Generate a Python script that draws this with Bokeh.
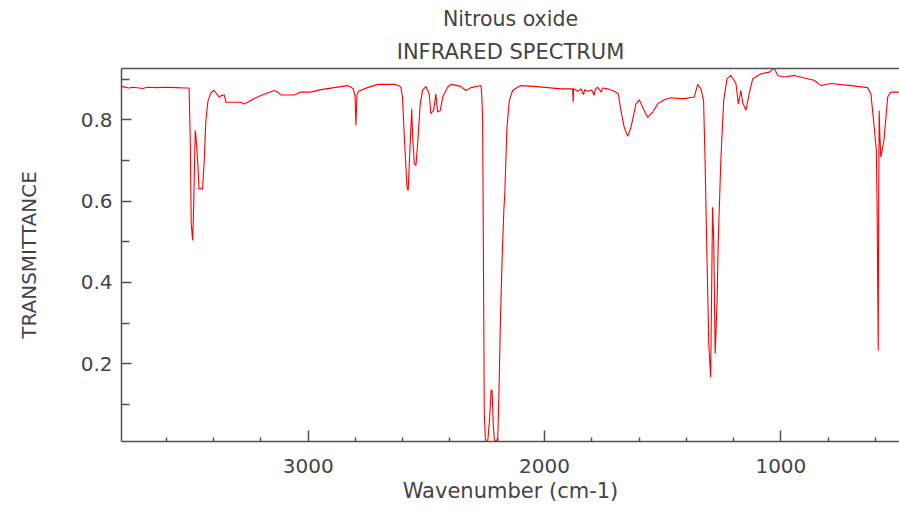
from bokeh.plotting import figure
from bokeh.models import LinearAxis, FixedTicker, Title, Range1d
from bokeh.embed import file_html
from bokeh.resources import INLINE

# Wavenumber (cm-1) and transmittance
wavenumber = [
    3790, 3760, 3740, 3700, 3680, 3640, 3600, 3560, 3520, 3504,
    3499, 3495, 3489, 3486, 3484, 3478, 3475, 3472, 3467, 3462,
    3447, 3440, 3433, 3424, 3412, 3400, 3390, 3377, 3365, 3355,
    3348, 3320, 3285, 3271, 3250, 3229, 3190, 3160, 3144, 3130,
    3116, 3090, 3059, 3031, 2989, 2946, 2890, 2833, 2810, 2802,
    2798, 2794, 2787, 2749, 2706, 2660, 2636, 2620, 2608, 2601,
    2594, 2582, 2577, 2568, 2562, 2558, 2551, 2544, 2537, 2526,
    2516, 2502, 2488, 2481, 2469, 2460, 2452, 2441, 2431, 2410,
    2396, 2354, 2333, 2311, 2269, 2266, 2262, 2258, 2255, 2250,
    2240, 2233, 2226, 2222, 2217, 2212, 2198, 2192, 2187, 2180,
    2172, 2168, 2159, 2149, 2135, 2114, 2100, 2044, 1987, 1931,
    1881, 1879, 1877, 1860, 1846, 1835, 1830, 1818, 1800, 1790,
    1785, 1775, 1760, 1755, 1733, 1705, 1688, 1677, 1663, 1648,
    1634, 1613, 1599, 1585, 1564, 1542, 1521, 1493, 1465, 1423,
    1409, 1366, 1352, 1338, 1327, 1321, 1313, 1305, 1297, 1289,
    1284, 1278, 1270, 1265, 1254, 1242, 1228, 1211, 1190, 1180,
    1169, 1162, 1148, 1134, 1119, 1084, 1049, 1028, 1013, 986,
    943, 887, 859, 830, 788, 704, 633, 619, 605, 596,
    593, 588, 586, 584, 581, 577, 564, 548, 534, 500,
]
transmittance = [
    0.882, 0.878, 0.880, 0.877, 0.880, 0.879, 0.880, 0.879, 0.878, 0.878,
    0.749, 0.545, 0.503, 0.560, 0.602, 0.774, 0.760, 0.737, 0.690, 0.630,
    0.630, 0.700, 0.798, 0.847, 0.866, 0.872, 0.866, 0.856, 0.860, 0.861,
    0.843, 0.843, 0.843, 0.839, 0.845, 0.852, 0.862, 0.868, 0.872, 0.868,
    0.861, 0.861, 0.861, 0.868, 0.868, 0.874, 0.879, 0.884, 0.877, 0.860,
    0.786, 0.860, 0.870, 0.879, 0.887, 0.887, 0.887, 0.885, 0.880, 0.856,
    0.766, 0.634, 0.626, 0.749, 0.827, 0.757, 0.692, 0.688, 0.741, 0.839,
    0.872, 0.882, 0.864, 0.815, 0.823, 0.864, 0.819, 0.823, 0.856, 0.880,
    0.887, 0.882, 0.872, 0.879, 0.884, 0.864, 0.806, 0.410, 0.078, 0.012,
    0.012, 0.060, 0.135, 0.135, 0.050, 0.012, 0.012, 0.150, 0.300, 0.450,
    0.580, 0.620, 0.782, 0.847, 0.872, 0.880, 0.884, 0.882, 0.879, 0.876,
    0.876, 0.843, 0.876, 0.870, 0.876, 0.862, 0.874, 0.870, 0.873, 0.860,
    0.876, 0.880, 0.868, 0.878, 0.876, 0.870, 0.864, 0.823, 0.782, 0.759,
    0.782, 0.839, 0.849, 0.831, 0.806, 0.819, 0.839, 0.849, 0.854, 0.852,
    0.852, 0.856, 0.887, 0.876, 0.847, 0.708, 0.470, 0.250, 0.167, 0.585,
    0.500, 0.225, 0.350, 0.500, 0.700, 0.847, 0.901, 0.909, 0.889, 0.839,
    0.872, 0.843, 0.823, 0.864, 0.901, 0.913, 0.917, 0.927, 0.909, 0.905,
    0.909, 0.901, 0.897, 0.884, 0.889, 0.884, 0.879, 0.864, 0.782, 0.725,
    0.600, 0.233, 0.600, 0.823, 0.760, 0.708, 0.749, 0.856, 0.868, 0.868,
]

x_major_ticks = [1000, 2000, 3000]
x_minor_ticks = [600, 800, 1200, 1400, 1600, 1800, 2200, 2400, 2600, 2800, 3200, 3400, 3600]
y_major_ticks = [0.2, 0.4, 0.6, 0.8]
y_minor_ticks = [0.1, 0.3, 0.5, 0.7, 0.9]

title_line1 = "Nitrous oxide"
title_line2 = "INFRARED SPECTRUM"
x_label = "Wavenumber (cm-1)"
y_label = "TRANSMITTANCE"

FONT = "DejaVu Sans"
TEXT = "#444444"
AXIS = "#505050"

p = figure(
    width=899, height=513,
    x_range=Range1d(3790, 498), y_range=Range1d(0.009, 0.926),
    output_backend="svg", toolbar_location=None,
    min_border_left=121, min_border_right=0,
    min_border_top=68, min_border_bottom=72,
    x_axis_label=x_label, y_axis_label=y_label,
    background_fill_color="white", border_fill_color="white",
)
p.outline_line_color = None
p.grid.visible = False

p.line(wavenumber, transmittance, line_color="#ff0000", line_width=1.1)

for ax in (p.xaxis[0], p.yaxis[0]):
    ax.axis_line_color = AXIS
    ax.axis_line_width = 1.5
    ax.major_tick_line_color = AXIS
    ax.minor_tick_line_color = AXIS
    ax.major_tick_line_width = 1.5
    ax.minor_tick_line_width = 1.5
    ax.major_tick_out = 0
    ax.minor_tick_out = 0
    ax.major_label_text_font = FONT
    ax.major_label_text_font_size = "20px"
    ax.major_label_text_color = TEXT
    ax.axis_label_text_font = FONT
    ax.axis_label_text_font_style = "normal"
    ax.axis_label_text_color = TEXT

p.xaxis[0].axis_label_text_font_size = "21px"
p.yaxis[0].axis_label_text_font_size = "20px"

p.xaxis[0].ticker = FixedTicker(ticks=x_major_ticks, minor_ticks=x_minor_ticks)
p.xaxis[0].major_tick_in = 11
p.xaxis[0].minor_tick_in = 4
p.xaxis[0].major_label_standoff = 17
p.xaxis[0].axis_label_standoff = 3

p.yaxis[0].ticker = FixedTicker(ticks=y_major_ticks, minor_ticks=y_minor_ticks)
p.yaxis[0].major_tick_in = 10
p.yaxis[0].minor_tick_in = 8
p.yaxis[0].major_label_standoff = 9
p.yaxis[0].axis_label_standoff = 37

top = LinearAxis(ticker=FixedTicker(ticks=[]), major_label_standoff=0,
                 axis_label_standoff=0, major_tick_out=0, minor_tick_out=0,
                 major_tick_in=0, minor_tick_in=0,
                 axis_line_color=AXIS, axis_line_width=1.5)
p.add_layout(top, "above")

t2 = Title(text=title_line2, align="center", offset=2, text_font=FONT,
           text_font_size="21px", text_font_style="normal", text_color=TEXT, standoff=10)
p.add_layout(t2, "above")
t1 = Title(text=title_line1, align="center", offset=2, text_font=FONT,
           text_font_size="20.5px", text_font_style="normal", text_color=TEXT, standoff=4)
p.add_layout(t1, "above")

open("out.html", "w").write(file_html(p, INLINE))
